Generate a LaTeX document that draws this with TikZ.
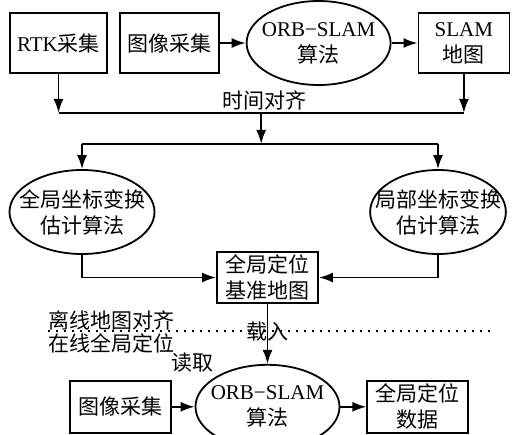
\documentclass[tikz,border=0pt]{standalone}
\usepackage{fontspec}
\setmainfont{Noto Sans CJK SC}
\newfontfamily\lat{Liberation Serif}
\usetikzlibrary{positioning}
\usetikzlibrary{arrows.meta}
\usetikzlibrary{calc}
\usetikzlibrary{shapes.geometric}

\begin{document}
\begin{tikzpicture}[
    x=1pt, y=1pt, line width=0.9pt,
    every node/.style={font=\fontsize{10.5}{13}\selectfont},
    box/.style={align=center, rectangle, draw=black, fill=white, inner sep=1pt, minimum height=30pt},
    oval/.style={align=center, ellipse, draw=black, fill=white, inner xsep=-7.5pt, inner ysep=0pt, minimum height=42pt},
    flow/.style={-{Latex[length=7pt,width=5pt]}},
]
    \useasboundingbox (0,0) rectangle (257,-217);

    \node[box, minimum width=48.5pt] (rtk) at (29.25,-21.5) {{\lat RTK}采集};
    \node[box, minimum width=49.5pt] (img) [right=5.5pt of rtk] {图像采集};
    \node[oval, minimum width=72pt] (orb) [right=13pt of img] {{\lat ORB−SLAM}\\算法};
    \node[box, minimum width=45.5pt] (map) [right=13pt of orb] {{\lat SLAM}\\地图};

    \node[oval, minimum width=72.5pt] (gl) at (41,-106) {全局坐标变换\\估计算法};
    \node[oval, minimum width=67.5pt] (lc) at (219,-106) {局部坐标变换\\估计算法};

    \node[box, minimum width=50.5pt, minimum height=25.5pt] (bm) at (133.75,-138.75) {全局定位\\基准地图};

    \node[oval, minimum width=72pt] (orb2) [below=30pt of bm] {{\lat ORB−SLAM}\\算法};
    \node[box, minimum width=50.5pt, minimum height=26pt] (img2) [left=11.5pt of orb2] {图像采集};
    \node[box, minimum width=50.5pt, minimum height=26pt] (pos) [right=13pt of orb2] {全局定位\\数据};

    \draw[flow] (img.east) -- (orb.west);
    \draw[flow] (orb.east) -- (map.west);

    \draw[flow] (rtk.south) -- ++(0,-19.5) coordinate (ta);
    \draw[flow] (map.south) -- ++(0,-19.5) coordinate (tb);
    \draw (ta) -- (tb);
    \coordinate (tm) at ($(ta)!0.5!(tb)$);
    \node (sync) at ($(tm)+(1.5,6)$) {时间对齐};
    \draw[flow] (tm) -- ++(0,-15.5) coordinate (tc);
    \draw (tc -| gl.north) -- (tc -| lc.north);
    \draw[flow] (tc -| gl.north) -- (gl.north);
    \draw[flow] (tc -| lc.north) -- (lc.north);

    \draw[flow] (gl.south) |- (bm.west);
    \draw[flow] (lc.south) |- (bm.east);
    \draw[flow] (bm.south) -- (orb2.north);
    \draw[flow] (img2.east) -- (orb2.west);
    \draw[flow] (orb2.east) -- (pos.west);

    % offline / online split
    \draw[line width=1pt, dash pattern=on 1pt off 3pt] (24,-165.5) -- (246,-165.5);
    \node (load) at (133.75,-166) {载入};
    \node (offline) at (55.75,-160) {离线地图对齐};
    \node (online) at (55.75,-171.5) {在线全局定位};
    \node (read) at (96,-181.5) {读取};

\end{tikzpicture}
\end{document}
